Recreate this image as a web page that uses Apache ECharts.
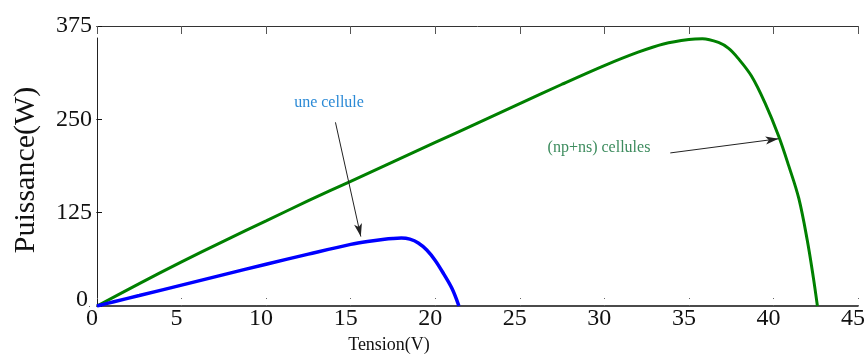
<!DOCTYPE html>
<html>
<head>
<meta charset="utf-8">
<script src="https://cdn.jsdelivr.net/npm/echarts@6/dist/echarts.min.js"></script>
<style>
  html, body { margin: 0; padding: 0; background: #ffffff; }
  #chart { width: 868px; height: 356px; }
</style>
</head>
<body>
<div id="chart"></div>
<script>
// P-V characteristic: single cell vs. (np+ns) cell array
const voltageOne = [0, 1, 2.5, 5, 7.5, 10, 12.5, 15, 16, 17, 17.5, 18, 18.5, 19, 19.5, 20, 20.5, 21, 21.4];
const powerOne   = [0, 5.7, 14, 28, 42, 56, 69.5, 82.5, 86.5, 89.5, 90.5, 91, 89.5, 84.5, 75, 61, 43, 23, 0];

const voltageArray = [0, 2.5, 5, 7.5, 10, 12.5, 15, 17.5, 20, 22.5, 25, 27.5, 30, 32, 33.5, 35, 35.8, 36.75, 37.35, 37.9, 38.7, 39.5, 40.3, 40.9, 41.5, 42, 42.36, 42.6];
const powerArray   = [0, 30, 59, 87, 114, 141, 167, 193, 219, 245, 271, 297, 322, 340, 351, 357, 358, 353, 345, 332, 308, 272, 228, 188, 144, 88, 38, 0];

const xTickValues = [0, 5, 10, 15, 20, 25, 30, 35, 40, 45];
const yTickValues = [0, 125, 250, 375];

// annotation arrows, in data units: [fromV, fromP, toV, toP]
const arrowOne   = [14.1, 246, 15.6, 93];
const arrowArray = [33.9, 205, 40.3, 224];

const labelOne   = 'une cellule';
const labelArray = '(np+ns) cellules';
const xTitle = 'Tension(V)';
const yTitle = 'Puissance(W)';

const serif = '"Liberation Serif", "Times New Roman", serif';

const zip = (xs, ys) => xs.map((x, i) => [x, ys[i]]);

const xMin = xTickValues[0], xMax = xTickValues[xTickValues.length - 1];
const xStep = xTickValues[1] - xTickValues[0];
const yMin = yTickValues[0], yMax = yTickValues[yTickValues.length - 1];
const yStep = yTickValues[1] - yTickValues[0];

const arrowMark = (a) => ({
  silent: true,
  symbol: ['none', 'arrow'],
  symbolSize: [6, 13],
  label: { show: false },
  lineStyle: { color: '#222', width: 1, type: 'solid' },
  emphasis: { disabled: true },
  data: [[{ coord: [a[0], a[1]] }, { coord: [a[2], a[3]] }]]
});

const chart = echarts.init(document.getElementById('chart'), null, { renderer: 'canvas' });

chart.setOption({
  animation: false,
  backgroundColor: '#ffffff',
  grid: { left: 97, right: 8, top: 26, bottom: 50, containLabel: false },
  xAxis: [
    {
      type: 'value', position: 'bottom', min: xMin, max: xMax, interval: xStep,
      axisLine: { show: true, onZero: false, lineStyle: { color: '#111', width: 1.5 } },
      axisTick: { show: true, inside: true, length: 8, lineStyle: { color: '#666', width: 1, type: [1, 6] } },
      axisLabel: { show: true, margin: 1, color: '#111', fontFamily: serif, fontSize: 24, padding: [0, 10, 0, 0] },
      splitLine: { show: false }
    },
    {
      type: 'value', position: 'top', min: xMin, max: xMax, interval: xStep,
      axisLine: { show: true, onZero: false, lineStyle: { color: '#333', width: 1 } },
      axisTick: { show: true, inside: true, length: 8, lineStyle: { color: '#555', width: 1 } },
      axisLabel: { show: false },
      splitLine: { show: false }
    }
  ],
  yAxis: [
    {
      type: 'value', position: 'left', min: yMin, max: yMax, interval: yStep,
      axisLine: { show: true, onZero: false, lineStyle: { color: '#222', width: 1, type: [268, 100] } },
      axisTick: { show: true, inside: true, length: 5, lineStyle: { color: '#111', width: 1 } },
      axisLabel: {
        show: true, margin: 5, color: '#111', fontFamily: serif, fontSize: 24,
        formatter: (v) => (v === yMin ? '{low|' + v + '}' : String(v)),
        rich: { low: { fontFamily: serif, fontSize: 24, color: '#111', padding: [0, 4, 12, 0] } }
      },
      splitLine: { show: false }
    },
    {
      type: 'value', position: 'right', min: yMin, max: yMax, interval: yStep,
      axisLine: { show: false },
      axisTick: { show: true, inside: true, length: 8, lineStyle: { color: '#666', width: 1, type: [1, 6] } },
      axisLabel: { show: false },
      splitLine: { show: false }
    }
  ],
  series: [
    {
      name: labelArray, type: 'line', xAxisIndex: 0, yAxisIndex: 0,
      data: zip(voltageArray, powerArray),
      showSymbol: false, smooth: 0.35,
      lineStyle: { color: '#008000', width: 3 },
      z: 3,
      markLine: arrowMark(arrowArray)
    },
    {
      name: labelOne, type: 'line', xAxisIndex: 0, yAxisIndex: 0,
      data: zip(voltageOne, powerOne),
      showSymbol: false, smooth: 0.35,
      lineStyle: { color: '#0000ff', width: 3.5 },
      z: 4,
      markLine: arrowMark(arrowOne)
    }
  ],
  graphic: [
    {
      type: 'text', x: 26, y: 170, rotation: Math.PI / 2,
      style: { text: yTitle, fill: '#111', font: '30px ' + serif, align: 'center', verticalAlign: 'middle' }
    },
    {
      type: 'text', x: 389, y: 345,
      style: { text: xTitle, fill: '#111', font: '18px ' + serif, align: 'center', verticalAlign: 'middle' }
    },
    {
      type: 'text', x: 329, y: 103,
      style: { text: labelOne, fill: '#2b8ad6', font: '16px ' + serif, align: 'center', verticalAlign: 'middle' }
    },
    {
      type: 'text', x: 599, y: 148,
      style: { text: labelArray, fill: '#3d8c5e', font: '16px ' + serif, align: 'center', verticalAlign: 'middle' }
    }
  ]
});
</script>
</body>
</html>
